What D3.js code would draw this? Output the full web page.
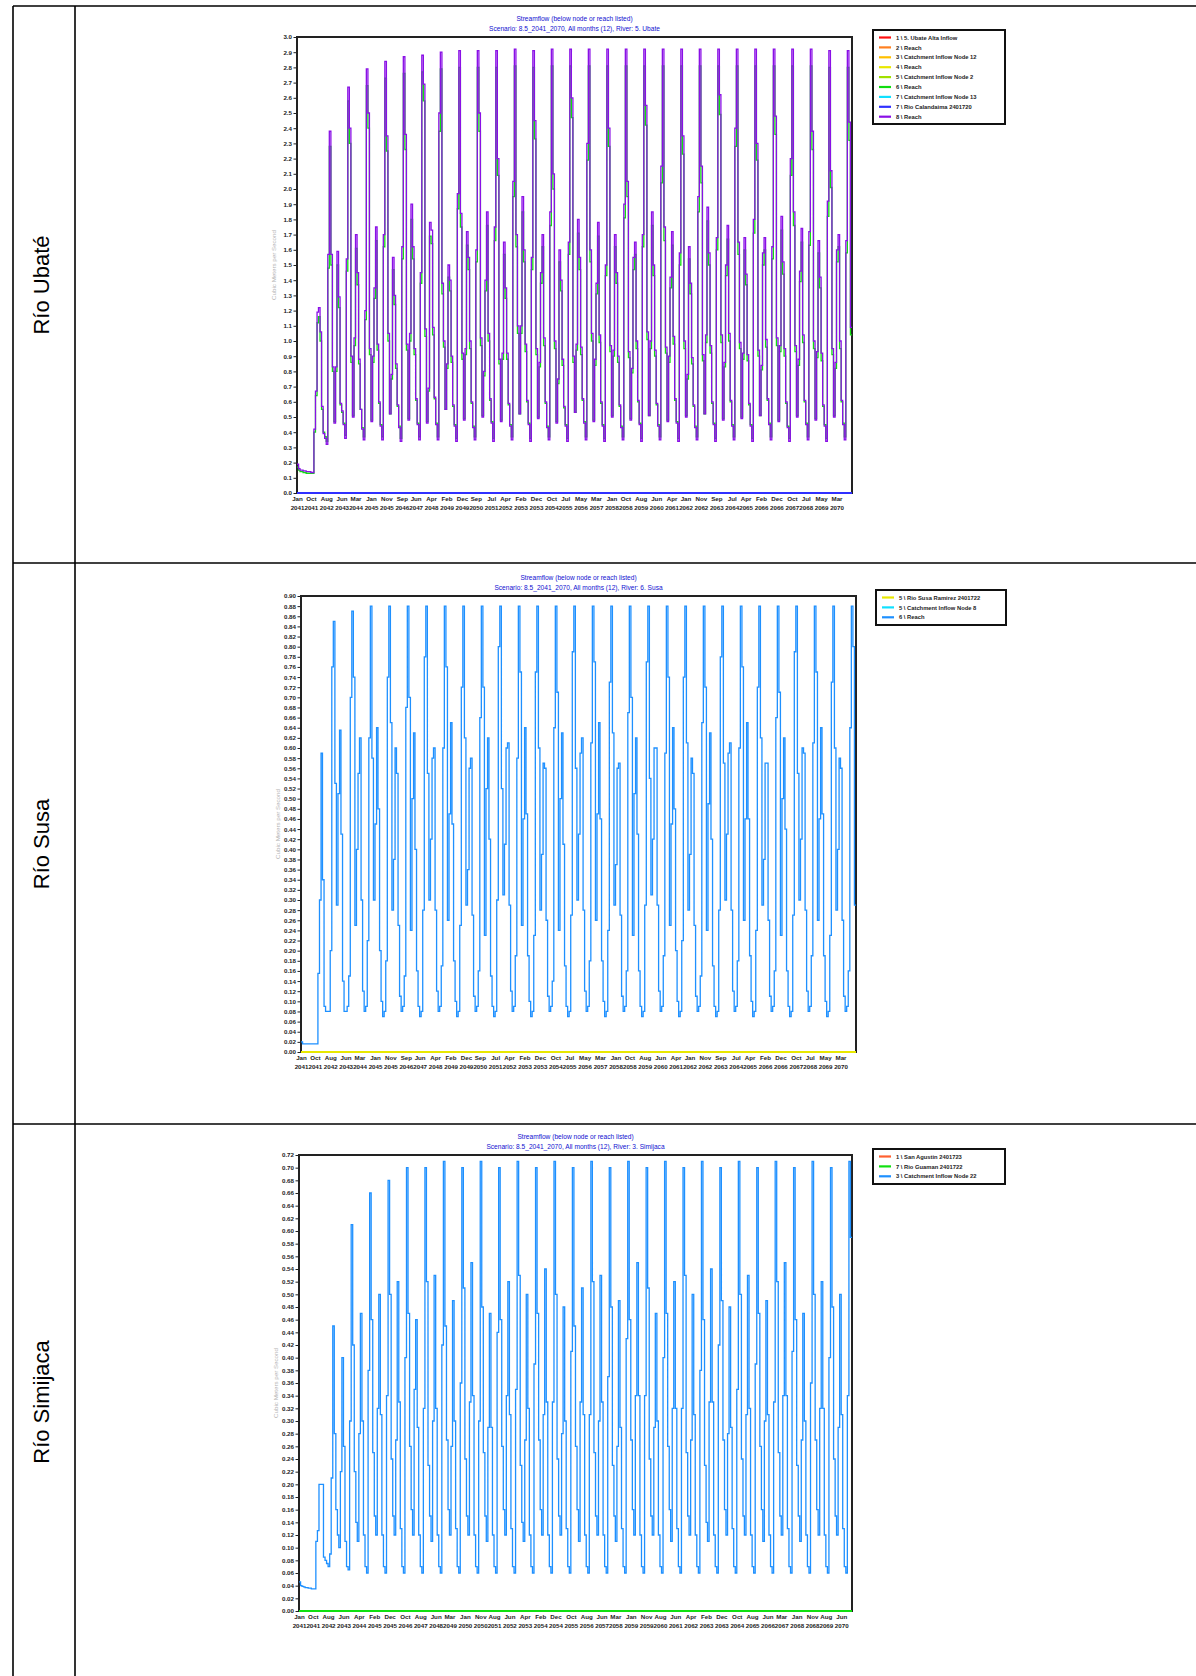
<!DOCTYPE html>
<html><head><meta charset="utf-8">
<script src="https://cdn.jsdelivr.net/npm/d3@7"></script>
<style>body{margin:0;background:#fff}svg{display:block}</style>
</head><body>
<svg id="c" width="1196" height="1676"></svg>
<script>
// ---------------- DATA ----------------
const rowLabels = ["Río Ubaté", "Río Susa", "Río Simijaca"];
const titleLine1 = "Streamflow (below node or reach listed)";
const titlesLine2 = [
  "Scenario: 8.5_2041_2070, All months (12), River: 5. Ubate",
  "Scenario: 8.5_2041_2070, All months (12), River: 6. Susa",
  "Scenario: 8.5_2041_2070, All months (12), River: 3. Simijaca"
];
const yAxisTitle = "Cubic Meters per Second";

const legendUbate = ["1 \\ 5. Ubate Alta Inflow","2 \\ Reach","3 \\ Catchment Inflow Node 12","4 \\ Reach","5 \\ Catchment Inflow Node 2","6 \\ Reach","7 \\ Catchment Inflow Node 13","7 \\ Rio Calandaima 2401720","8 \\ Reach"];
const legendSusa = ["5 \\ Rio Susa Ramirez 2401722","5 \\ Catchment Inflow Node 8","6 \\ Reach"];
const legendSimijaca = ["1 \\ San Agustin 2401723","7 \\ Rio Guaman 2401722","3 \\ Catchment Inflow Node 22"];

// x tick labels (month-year)
const xTicksUbate = ["2041-01","2041-10","2042-08","2043-06","2044-03","2045-01","2045-11","2046-09","2047-06","2048-04","2049-02","2049-12","2050-09","2051-07","2052-04","2053-02","2053-12","2054-10","2055-07","2056-05","2057-03","2058-01","2058-10","2059-08","2060-06","2061-04","2062-01","2062-11","2063-09","2064-07","2065-04","2066-02","2066-12","2067-10","2068-07","2069-05","2070-03"];
const xTicksSusa = xTicksUbate.slice();
const xTicksSimijaca = ["2041-01","2041-10","2042-08","2043-06","2044-04","2045-02","2045-12","2046-10","2047-08","2048-06","2049-03","2050-01","2050-11","2051-08","2052-06","2053-04","2054-02","2054-12","2055-10","2056-08","2057-06","2058-03","2059-01","2059-11","2060-08","2061-06","2062-04","2063-02","2063-12","2064-10","2065-08","2066-06","2067-03","2068-01","2068-11","2069-08","2070-06"];

// monthly values, one row per year 2041..2070, Jan..Dec  (m3/s)
const ubateReach = [
[0.19,0.16,0.15,0.15,0.145,0.145,0.14,0.14,0.14,0.135,0.135,0.42],
[0.67,1.19,1.22,1.06,0.57,0.39,0.36,0.32,1.57,2.38,1.57,0.83],
[0.46,0.83,1.59,1.29,0.59,0.54,0.45,0.36,1.54,2.67,2.40,0.90],
[0.50,1.02,1.70,1.45,0.88,0.55,0.42,0.35,1.20,2.79,2.50,0.95],
[0.47,0.90,1.35,1.75,0.98,0.60,0.44,0.35,1.70,2.84,2.35,1.05],
[0.52,0.78,1.55,1.30,0.85,0.58,0.43,0.34,1.62,2.87,2.36,0.98],
[0.48,1.05,1.90,1.62,0.95,0.62,0.45,0.35,1.45,2.88,2.69,1.08],
[0.46,0.69,1.78,1.73,1.09,0.63,0.45,0.35,2.50,2.90,1.38,1.00],
[0.55,0.85,1.50,1.40,0.90,0.58,0.44,0.34,1.97,2.91,1.84,0.92],
[0.48,0.95,1.72,1.55,1.00,0.60,0.43,0.35,1.60,2.91,2.50,1.02],
[0.50,0.80,1.40,1.85,1.05,0.62,0.46,0.34,1.75,2.91,2.20,0.88],
[0.47,0.92,1.65,1.35,0.92,0.59,0.44,0.35,2.05,2.92,1.70,1.10],
[0.52,1.10,1.95,1.60,0.98,0.61,0.45,0.34,1.55,2.91,2.45,0.95],
[0.49,0.86,1.45,1.70,1.02,0.60,0.43,0.35,1.85,2.92,2.10,1.00],
[0.46,0.75,1.60,1.40,0.88,0.57,0.44,0.34,1.65,2.92,2.60,0.90],
[0.53,0.98,1.80,1.55,0.96,0.62,0.46,0.35,2.30,2.92,1.60,1.05],
[0.47,0.88,1.38,1.78,1.04,0.60,0.44,0.34,1.50,2.92,2.40,0.97],
[0.50,0.94,1.70,1.45,0.90,0.58,0.43,0.35,1.90,2.92,2.05,0.93],
[0.48,0.82,1.55,1.65,1.00,0.61,0.45,0.34,1.70,2.92,2.55,1.06],
[0.51,1.00,1.85,1.50,0.94,0.59,0.44,0.35,2.15,2.92,1.75,0.96],
[0.47,0.90,1.42,1.72,1.03,0.62,0.46,0.34,1.58,2.92,2.35,1.00],
[0.50,0.78,1.62,1.38,0.89,0.58,0.43,0.35,1.95,2.92,2.15,0.91],
[0.52,1.04,1.88,1.58,0.97,0.60,0.45,0.34,1.68,2.92,2.62,1.04],
[0.48,0.86,1.50,1.76,1.05,0.61,0.44,0.35,2.40,2.92,1.65,0.99],
[0.49,0.92,1.68,1.44,0.91,0.59,0.44,0.34,1.80,2.92,2.30,0.94],
[0.51,0.84,1.58,1.68,1.01,0.62,0.45,0.35,1.62,2.92,2.48,1.02],
[0.47,0.97,1.82,1.52,0.95,0.60,0.43,0.34,2.20,2.92,1.85,0.97],
[0.50,0.88,1.46,1.74,1.04,0.61,0.45,0.35,1.72,2.92,2.38,1.00],
[0.48,0.93,1.66,1.42,0.92,0.58,0.44,0.34,1.92,2.91,2.12,0.95],
[0.50,0.86,1.60,1.70,1.00,0.61,0.45,0.35,1.66,2.91,2.44,1.09]];

const ubateReach6 = [
[0.17,0.15,0.14,0.14,0.135,0.135,0.13,0.13,0.13,0.13,0.13,0.40],
[0.64,1.12,1.16,1.00,0.55,0.40,0.37,0.34,1.48,2.28,1.50,0.80],
[0.47,0.80,1.50,1.22,0.58,0.53,0.46,0.38,1.46,2.58,2.30,0.86],
[0.51,0.97,1.61,1.37,0.85,0.55,0.43,0.37,1.14,2.68,2.40,0.91],
[0.48,0.86,1.28,1.66,0.94,0.59,0.45,0.37,1.62,2.73,2.25,1.00],
[0.52,0.75,1.47,1.24,0.82,0.57,0.44,0.36,1.54,2.76,2.26,0.94],
[0.49,1.00,1.80,1.54,0.91,0.61,0.46,0.37,1.38,2.77,2.58,1.03],
[0.47,0.67,1.69,1.64,1.04,0.62,0.46,0.37,2.38,2.79,1.31,0.96],
[0.55,0.82,1.42,1.33,0.86,0.57,0.45,0.36,1.87,2.80,1.75,0.88],
[0.49,0.91,1.63,1.47,0.95,0.59,0.44,0.37,1.52,2.80,2.38,0.97],
[0.51,0.77,1.33,1.76,1.00,0.61,0.47,0.36,1.66,2.80,2.09,0.85],
[0.48,0.88,1.57,1.28,0.88,0.58,0.45,0.37,1.95,2.81,1.62,1.05],
[0.52,1.05,1.85,1.52,0.93,0.60,0.46,0.36,1.47,2.80,2.33,0.91],
[0.50,0.83,1.38,1.62,0.97,0.59,0.44,0.37,1.76,2.81,2.00,0.95],
[0.47,0.72,1.52,1.33,0.84,0.56,0.45,0.36,1.57,2.81,2.47,0.86],
[0.53,0.94,1.71,1.47,0.91,0.61,0.47,0.37,2.19,2.81,1.52,1.00],
[0.48,0.84,1.31,1.69,0.99,0.59,0.45,0.36,1.43,2.81,2.28,0.93],
[0.51,0.90,1.62,1.38,0.86,0.57,0.44,0.37,1.81,2.81,1.95,0.89],
[0.49,0.79,1.47,1.57,0.95,0.60,0.46,0.36,1.62,2.81,2.42,1.01],
[0.51,0.95,1.76,1.43,0.90,0.58,0.45,0.37,2.04,2.81,1.66,0.92],
[0.48,0.86,1.35,1.63,0.98,0.61,0.47,0.36,1.50,2.81,2.23,0.95],
[0.51,0.75,1.54,1.31,0.85,0.57,0.44,0.37,1.85,2.81,2.04,0.87],
[0.52,0.99,1.79,1.50,0.92,0.59,0.46,0.36,1.60,2.81,2.49,0.99],
[0.49,0.83,1.43,1.67,1.00,0.60,0.45,0.37,2.28,2.81,1.57,0.95],
[0.50,0.88,1.60,1.37,0.87,0.58,0.45,0.36,1.71,2.81,2.19,0.90],
[0.51,0.81,1.50,1.60,0.96,0.61,0.46,0.37,1.54,2.81,2.36,0.97],
[0.48,0.93,1.73,1.44,0.90,0.59,0.44,0.36,2.09,2.81,1.76,0.93],
[0.51,0.84,1.39,1.65,0.99,0.60,0.46,0.37,1.63,2.81,2.26,0.95],
[0.49,0.89,1.58,1.35,0.87,0.57,0.45,0.36,1.82,2.80,2.01,0.91],
[0.51,0.82,1.52,1.62,0.95,0.60,0.46,0.37,1.58,2.80,2.32,1.04]];

const susaReach = [
[0.020,0.016,0.016,0.016,0.016,0.016,0.016,0.016,0.016,0.016,0.016,0.155],
[0.30,0.59,0.34,0.09,0.08,0.08,0.08,0.20,0.76,0.85,0.53,0.29],
[0.51,0.635,0.43,0.14,0.08,0.08,0.09,0.15,0.70,0.87,0.74,0.25],
[0.40,0.55,0.62,0.30,0.12,0.08,0.09,0.22,0.62,0.88,0.58,0.30],
[0.45,0.64,0.48,0.20,0.10,0.07,0.08,0.18,0.74,0.88,0.65,0.28],
[0.38,0.60,0.55,0.25,0.11,0.08,0.09,0.15,0.68,0.88,0.70,0.24],
[0.50,0.63,0.40,0.16,0.09,0.07,0.08,0.28,0.78,0.88,0.55,0.30],
[0.42,0.58,0.60,0.28,0.12,0.08,0.09,0.17,0.60,0.88,0.76,0.26],
[0.47,0.65,0.45,0.18,0.10,0.07,0.08,0.25,0.72,0.88,0.62,0.29],
[0.36,0.56,0.58,0.27,0.11,0.08,0.09,0.16,0.66,0.88,0.72,0.23],
[0.52,0.62,0.42,0.15,0.09,0.07,0.08,0.30,0.80,0.88,0.52,0.31],
[0.41,0.60,0.61,0.29,0.12,0.08,0.09,0.19,0.58,0.88,0.75,0.25],
[0.46,0.64,0.47,0.19,0.10,0.07,0.08,0.23,0.75,0.88,0.60,0.28],
[0.39,0.57,0.56,0.26,0.11,0.08,0.09,0.14,0.64,0.88,0.71,0.24],
[0.50,0.63,0.41,0.17,0.09,0.07,0.08,0.27,0.79,0.88,0.56,0.30],
[0.43,0.59,0.62,0.28,0.12,0.08,0.09,0.18,0.61,0.88,0.77,0.26],
[0.47,0.65,0.46,0.18,0.10,0.07,0.08,0.24,0.73,0.88,0.63,0.29],
[0.37,0.56,0.57,0.27,0.11,0.08,0.09,0.16,0.67,0.88,0.70,0.23],
[0.51,0.62,0.43,0.16,0.09,0.07,0.08,0.29,0.77,0.88,0.54,0.31],
[0.42,0.60,0.60,0.29,0.12,0.08,0.09,0.19,0.59,0.88,0.74,0.25],
[0.45,0.64,0.48,0.20,0.10,0.07,0.08,0.22,0.74,0.88,0.61,0.28],
[0.39,0.58,0.55,0.25,0.11,0.08,0.09,0.15,0.65,0.88,0.72,0.24],
[0.49,0.63,0.42,0.17,0.09,0.07,0.08,0.28,0.78,0.88,0.57,0.30],
[0.43,0.59,0.61,0.28,0.12,0.08,0.09,0.18,0.60,0.88,0.76,0.26],
[0.46,0.65,0.46,0.19,0.10,0.07,0.08,0.24,0.72,0.88,0.62,0.29],
[0.38,0.57,0.57,0.26,0.11,0.08,0.09,0.16,0.66,0.88,0.71,0.23],
[0.50,0.62,0.44,0.16,0.09,0.07,0.08,0.27,0.79,0.88,0.55,0.30],
[0.42,0.60,0.59,0.28,0.12,0.08,0.09,0.19,0.61,0.88,0.75,0.26],
[0.46,0.64,0.47,0.19,0.10,0.07,0.08,0.23,0.73,0.88,0.60,0.28],
[0.40,0.58,0.56,0.26,0.11,0.08,0.09,0.16,0.64,0.88,0.80,0.29]];

const simijacaInflow = [
[0.046,0.040,0.039,0.038,0.037,0.037,0.036,0.036,0.035,0.035,0.035,0.110],
[0.127,0.20,0.20,0.20,0.085,0.08,0.075,0.07,0.09,0.21,0.45,0.28],
[0.16,0.12,0.10,0.22,0.40,0.26,0.11,0.07,0.065,0.30,0.61,0.42],
[0.22,0.14,0.11,0.28,0.47,0.30,0.12,0.07,0.06,0.38,0.66,0.46],
[0.25,0.15,0.12,0.32,0.50,0.31,0.12,0.07,0.06,0.34,0.68,0.50],
[0.24,0.15,0.12,0.27,0.52,0.33,0.13,0.07,0.06,0.40,0.70,0.47],
[0.26,0.16,0.12,0.35,0.46,0.29,0.12,0.07,0.06,0.32,0.70,0.52],
[0.23,0.15,0.11,0.30,0.53,0.32,0.12,0.07,0.06,0.42,0.71,0.45],
[0.27,0.16,0.12,0.26,0.49,0.30,0.13,0.07,0.06,0.36,0.70,0.51],
[0.24,0.15,0.12,0.33,0.55,0.34,0.12,0.07,0.06,0.30,0.71,0.48],
[0.25,0.15,0.11,0.29,0.47,0.29,0.12,0.07,0.06,0.44,0.70,0.46],
[0.26,0.16,0.12,0.34,0.52,0.31,0.13,0.07,0.06,0.35,0.71,0.53],
[0.23,0.14,0.11,0.27,0.50,0.32,0.12,0.07,0.06,0.39,0.70,0.47],
[0.27,0.16,0.12,0.31,0.54,0.33,0.12,0.07,0.06,0.33,0.71,0.50],
[0.24,0.15,0.12,0.28,0.48,0.30,0.13,0.07,0.06,0.41,0.70,0.45],
[0.26,0.16,0.11,0.33,0.51,0.31,0.12,0.07,0.06,0.31,0.71,0.52],
[0.25,0.15,0.12,0.30,0.53,0.33,0.12,0.07,0.06,0.37,0.70,0.48],
[0.23,0.15,0.11,0.26,0.49,0.29,0.13,0.07,0.06,0.43,0.71,0.46],
[0.27,0.16,0.12,0.34,0.55,0.34,0.12,0.07,0.06,0.34,0.70,0.51],
[0.24,0.15,0.12,0.29,0.47,0.30,0.12,0.07,0.06,0.40,0.71,0.47],
[0.26,0.16,0.11,0.32,0.52,0.32,0.13,0.07,0.06,0.32,0.70,0.53],
[0.25,0.15,0.12,0.27,0.50,0.31,0.12,0.07,0.06,0.38,0.71,0.46],
[0.23,0.14,0.11,0.33,0.54,0.33,0.12,0.07,0.06,0.42,0.70,0.49],
[0.27,0.16,0.12,0.28,0.48,0.29,0.13,0.07,0.06,0.35,0.71,0.50],
[0.24,0.15,0.12,0.31,0.53,0.32,0.12,0.07,0.06,0.39,0.70,0.47],
[0.26,0.16,0.11,0.30,0.49,0.31,0.12,0.07,0.06,0.33,0.71,0.52],
[0.25,0.15,0.12,0.34,0.55,0.34,0.13,0.07,0.06,0.41,0.70,0.46],
[0.23,0.15,0.11,0.27,0.47,0.30,0.12,0.07,0.06,0.36,0.71,0.50],
[0.27,0.16,0.12,0.32,0.52,0.32,0.12,0.07,0.06,0.40,0.70,0.48],
[0.24,0.15,0.12,0.29,0.50,0.31,0.13,0.07,0.06,0.34,0.71,0.59]];

// gauged series with no flow recorded in the chart (drawn on the zero line)
const zeroYear = [0,0,0,0,0,0,0,0,0,0,0,0];
const gaugeUbate = new Array(30).fill(zeroYear);
const gaugeSusa = new Array(30).fill(zeroYear);
const gaugeSimijaca = new Array(30).fill(zeroYear);

// ---------------- DRAWING ----------------
const svg = d3.select("#c");
const FONT = "'Liberation Sans', Arial, sans-serif";
const parseM = d3.timeParse("%Y-%m");
const T0 = parseM("2041-01"), T1 = parseM("2071-01");

function monthly(rows){
  const out = [];
  rows.forEach((r, yi) => r.forEach((v, mi) => out.push({date: new Date(2041 + yi, mi, 1), v})));
  out.push({date: new Date(2071, 0, 1), v: out[out.length - 1].v});
  return out;
}

// table grid
const grid = svg.append("g").attr("stroke", "#000").attr("stroke-width", 1.6);
[[13, 6, 13, 1676], [75, 6, 75, 1676], [13, 6, 1196, 6], [13, 563, 1196, 563], [13, 1124, 1196, 1124]]
  .forEach(l => grid.append("line").attr("x1", l[0]).attr("y1", l[1]).attr("x2", l[2]).attr("y2", l[3]));
[285, 844, 1402].forEach((cy, i) => {
  svg.append("text").attr("transform", `translate(49,${cy}) rotate(-90)`)
    .attr("text-anchor", "middle").attr("font-family", FONT).attr("font-size", 22)
    .attr("fill", "#000").text(rowLabels[i]);
});

function panel(cfg){
  const x = d3.scaleTime().domain([T0, T1]).range([cfg.left, cfg.right]);
  const y = d3.scaleLinear().domain([0, cfg.ymax]).range([cfg.bottom, cfg.top]);
  const g = svg.append("g");
  const cx = (cfg.left + cfg.right) / 2;
  g.append("text").attr("x", cx).attr("y", cfg.top - 16).attr("text-anchor", "middle")
    .attr("font-family", FONT).attr("font-size", 6.6).attr("fill", "#1010d0").text(titleLine1);
  g.append("text").attr("x", cx).attr("y", cfg.top - 6.5).attr("text-anchor", "middle")
    .attr("font-family", FONT).attr("font-size", 6.6).attr("fill", "#1010d0").text(cfg.title2);

  g.append("rect").attr("x", cfg.left).attr("y", cfg.top).attr("width", cfg.right - cfg.left)
    .attr("height", cfg.bottom - cfg.top).attr("fill", "#fff").attr("stroke", "#222").attr("stroke-width", 2);

  const yTicks = d3.range(0, Math.round(cfg.ymax / cfg.ystep) + 1).map(i => i * cfg.ystep);
  const ya = g.append("g").attr("transform", `translate(${cfg.left - 1},0)`)
    .call(d3.axisLeft(y).tickValues(yTicks).tickFormat(d3.format(cfg.fmt)).tickSize(2.5).tickPadding(1.5));
  ya.select(".domain").remove();
  ya.selectAll("line").attr("stroke", "#222");
  ya.selectAll("text").attr("font-family", FONT).attr("font-size", 6.2).attr("font-weight", "bold").attr("fill", "#222");

  g.append("text").attr("transform", `translate(${cfg.left - 21},${(cfg.top + cfg.bottom) / 2}) rotate(-90)`)
    .attr("text-anchor", "middle").attr("font-family", FONT).attr("font-size", 6.2).attr("fill", "#b4b4b4").text(yAxisTitle);

  const tickDates = cfg.xTicks.map(parseM);
  const xa = g.append("g").attr("transform", `translate(0,${cfg.bottom})`)
    .call(d3.axisBottom(x).tickValues(tickDates).tickFormat(d3.timeFormat("%b")).tickSize(0).tickPadding(4));
  xa.select(".domain").remove();
  xa.selectAll("text").attr("font-family", FONT).attr("font-size", 6.2).attr("font-weight", "bold").attr("fill", "#222");
  const xa2 = g.append("g").attr("transform", `translate(0,${cfg.bottom + 9})`)
    .call(d3.axisBottom(x).tickValues(tickDates).tickFormat(d3.timeFormat("%Y")).tickSize(0).tickPadding(4));
  xa2.select(".domain").remove();
  xa2.selectAll("text").attr("font-family", FONT).attr("font-size", 6.2).attr("font-weight", "bold").attr("fill", "#222");

  const line = d3.line().x(d => x(d.date)).y(d => y(d.v)).curve(d3.curveStepAfter);
  cfg.series.filter(s => s.rows).forEach(s => {
    g.append("path").datum(monthly(s.rows)).attr("d", line).attr("fill", "none")
      .attr("stroke", s.color).attr("stroke-width", s.w || 1.3).attr("stroke-linejoin", "miter");
  });

  // legend
  const L = cfg.legend;
  const lg = g.append("g");
  lg.append("rect").attr("x", L.x).attr("y", L.y).attr("width", L.w).attr("height", L.h)
    .attr("fill", "#fff").attr("stroke", "#111").attr("stroke-width", 2);
  cfg.series.forEach((s, i) => {
    const yy = L.y + 7.5 + i * 9.9;
    lg.append("line").attr("x1", L.x + 6).attr("x2", L.x + 18).attr("y1", yy).attr("y2", yy)
      .attr("stroke", s.color).attr("stroke-width", 2.2);
    lg.append("text").attr("x", L.x + 23).attr("y", yy + 2.1).attr("font-family", FONT)
      .attr("font-size", 5.8).attr("font-weight", "bold").attr("fill", "#222").text(s.name);
  });
}

panel({
  left: 297, right: 852, top: 37, bottom: 493, ymax: 3.0, ystep: 0.1, fmt: ".1f",
  title2: titlesLine2[0], xTicks: xTicksUbate,
  legend: {x: 873, y: 30, w: 132, h: 94},
  series: [
    {name: legendUbate[0], color: "#ff1010"},
    {name: legendUbate[1], color: "#ff8020"},
    {name: legendUbate[2], color: "#ffc000"},
    {name: legendUbate[3], color: "#e8e800"},
    {name: legendUbate[4], color: "#a0e000"},
    {name: legendUbate[5], color: "#10dd10", rows: ubateReach6},
    {name: legendUbate[6], color: "#10e0ff"},
    {name: legendUbate[7], color: "#3030ff", rows: gaugeUbate, w: 2},
    {name: legendUbate[8], color: "#8a10e6", rows: ubateReach}
  ]
});

panel({
  left: 301, right: 856, top: 596, bottom: 1052, ymax: 0.90, ystep: 0.02, fmt: ".2f",
  title2: titlesLine2[1], xTicks: xTicksSusa,
  legend: {x: 876, y: 590, w: 130, h: 35},
  series: [
    {name: legendSusa[0], color: "#e8e800", rows: gaugeSusa, w: 2},
    {name: legendSusa[1], color: "#10e0ff"},
    {name: legendSusa[2], color: "#1e90ff", rows: susaReach}
  ]
});

panel({
  left: 299, right: 852, top: 1155, bottom: 1611, ymax: 0.72, ystep: 0.02, fmt: ".2f",
  title2: titlesLine2[2], xTicks: xTicksSimijaca,
  legend: {x: 873, y: 1149, w: 132, h: 35},
  series: [
    {name: legendSimijaca[0], color: "#ff6030"},
    {name: legendSimijaca[1], color: "#10e010", rows: gaugeSimijaca, w: 2},
    {name: legendSimijaca[2], color: "#1e90ff", rows: simijacaInflow}
  ]
});
</script>
</body></html>
